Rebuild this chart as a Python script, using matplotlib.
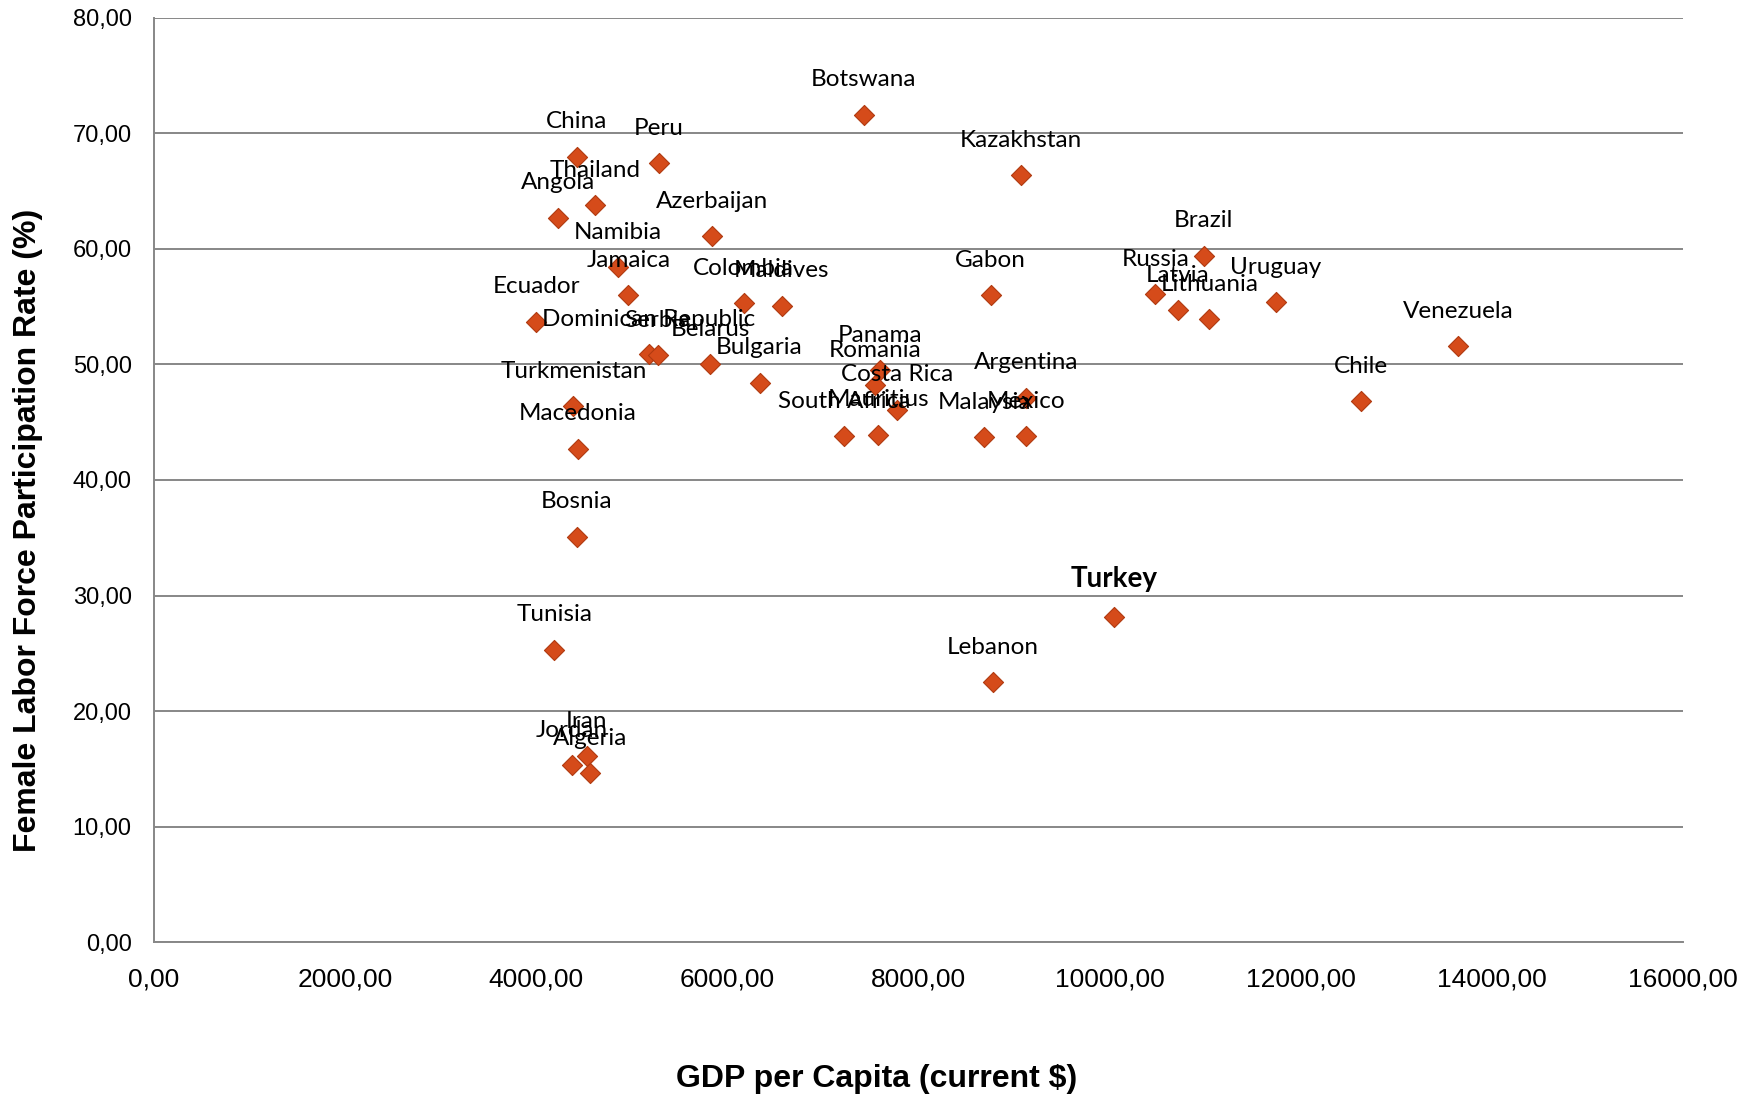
import matplotlib
matplotlib.use("Agg")
import matplotlib.pyplot as plt
from matplotlib.ticker import FuncFormatter, MultipleLocator

# Female labor force participation vs. GDP per capita
countries = ["Botswana", "China", "Peru", "Thailand", "Angola", "Kazakhstan",
             "Azerbaijan", "Namibia", "Jamaica", "Brazil", "Russia", "Latvia",
             "Lithuania", "Uruguay", "Venezuela", "Gabon", "Colombia", "Maldives",
             "Ecuador", "Dominican Republic", "Serbia", "Belarus", "Bulgaria",
             "Panama", "Romania", "Costa Rica", "South Africa", "Mauritius",
             "Malaysia", "Mexico", "Argentina", "Chile", "Turkmenistan",
             "Macedonia", "Bosnia", "Tunisia", "Turkey", "Lebanon", "Jordan",
             "Iran", "Algeria"]
gdp = [7430, 4425, 5282, 4613, 4226, 9074,
       5846, 4860, 4965, 10987, 10482, 10717,
       11046, 11739, 13652, 8757, 6174, 6573,
       4003, 5177, 5271, 5822, 6339,
       7601, 7548, 7778, 7225, 7580,
       8689, 9128, 9128, 12631, 4390,
       4437, 4425, 4191, 10048, 8780, 4374,
       4531, 4566]
flfp = [71.6, 68.0, 67.4, 63.8, 62.7, 66.4,
        61.1, 58.4, 56.0, 59.4, 56.1, 54.7,
        53.9, 55.4, 51.6, 56.0, 55.3, 55.1,
        53.7, 50.9, 50.8, 50.0, 48.4,
        49.5, 48.2, 46.1, 43.8, 43.9,
        43.7, 43.8, 47.1, 46.8, 46.4,
        42.7, 35.1, 25.3, 28.1, 22.5, 15.3,
        16.1, 14.6]

fig = plt.figure(figsize=(17.59, 10.95), dpi=100)
ax = fig.add_axes([0.0875, 0.1397, 0.8691, 0.8439])

ax.scatter(gdp, flfp, marker="D", s=105, color="#D54B1A",
           edgecolors="#B03A10", linewidths=0.8, zorder=3)

# labels sit centred above each marker
for name, x, y in zip(countries, gdp, flfp):
    if name == "Turkey":
        ax.annotate(name, (x, y), xytext=(0, 38), textcoords="offset pixels",
                    ha="center", va="center", fontsize=20, fontweight="bold",
                    family="Lato", color="black", zorder=4)
    else:
        ax.annotate(name, (x, y), xytext=(0, 35), textcoords="offset pixels",
                    ha="center", va="center", fontsize=17.5,
                    family="Lato", color="black", zorder=4)

ax.set_xlim(0, 16000)
ax.set_ylim(0, 80)
ax.xaxis.set_major_locator(MultipleLocator(2000))
ax.yaxis.set_major_locator(MultipleLocator(10))
comma = FuncFormatter(lambda v, p: f"{v:.2f}".replace(".", ","))
ax.xaxis.set_major_formatter(comma)
ax.yaxis.set_major_formatter(comma)

ax.grid(axis="y", color="#878787", linewidth=1.4, zorder=0)
ax.set_axisbelow(True)
for side in ["top", "right"]:
    ax.spines[side].set_visible(False)
for side in ["left", "bottom"]:
    ax.spines[side].set_color("#878787")
    ax.spines[side].set_linewidth(1.4)
ax.tick_params(axis="x", length=0, labelsize=19, pad=18, colors="black")
ax.tick_params(axis="y", length=0, labelsize=17, pad=16, colors="black")
for lbl in ax.get_xticklabels() + ax.get_yticklabels():
    lbl.set_family("Liberation Sans")

ax.set_xlabel("GDP per Capita (current $)", fontsize=23, fontweight="bold",
              family="Liberation Sans", va="center")
ax.xaxis.set_label_coords(0.473, -0.148)
ax.set_ylabel("Female Labor Force Participation Rate (%)", fontsize=23,
              fontweight="bold", family="Liberation Sans", va="center")
ax.yaxis.set_label_coords(-0.0824, 0.445)

fig.savefig("out.png", dpi=100)
